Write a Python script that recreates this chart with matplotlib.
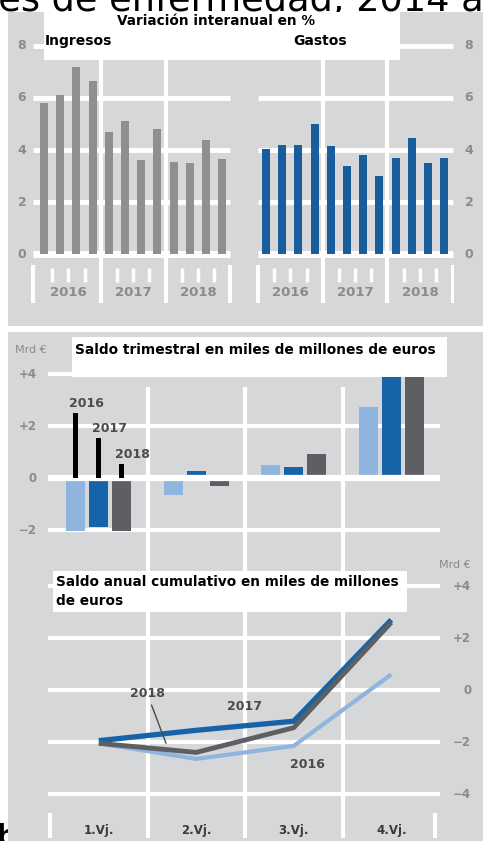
import matplotlib.pyplot as plt
from matplotlib.patches import Rectangle

# Variación interanual en % (one value per quarter, 2016-2018)
years = ['2016', '2017', '2018']
ingresos = [5.8, 6.1, 7.2, 6.65, 4.7, 5.1, 3.6, 4.8, 3.55, 3.5, 4.4, 3.65]
gastos = [4.05, 4.2, 4.2, 5.0, 4.15, 3.4, 3.8, 3.0, 3.7, 4.45, 3.5, 3.7]
top_ticks = [0, 2, 4, 6, 8]

# Saldo trimestral (Mrd €)
quarter_labels = ['1.Vj.', '2.Vj.', '3.Vj.', '4.Vj.']
saldo_2016 = [-2.05, -0.65, 0.5, 2.75]
saldo_2017 = [-1.9, 0.27, 0.42, 4.0]
saldo_2018 = [-2.05, -0.3, 0.92, 4.05]
legend_heights = [2.5, 1.55, 0.55]
mid_ticks = [-2, 0, 2, 4]
mid_tick_labels = ['\u22122', '0', '+2', '+4']

# Saldo anual cumulativo (Mrd €)
acum_2016 = [-2.05, -2.65, -2.15, 0.6]
acum_2017 = [-1.95, -1.55, -1.2, 2.7]
acum_2018 = [-2.05, -2.4, -1.45, 2.6]
low_ticks = [-4, -2, 0, 2, 4]
low_tick_labels = ['\u22124', '\u22122', '0', '+2', '+4']

# Colours
BG = '#d6d7d9'
LABEL = '#8a8b8d'
C_ING = '#8e8f91'
C_GAS = '#1a5d9c'
C_16 = '#8fb4dd'
C_17 = '#1763a8'
C_18 = '#5d5f63'

W, H = 483, 841
fig = plt.figure(figsize=(W / 100, H / 100), dpi=100)
fig.patch.set_facecolor('white')


def px_axes(x0, y0, x1, y1):
    # axes placed in pixel coordinates (origin top-left)
    ax = fig.add_axes([x0 / W, 1 - y1 / H, (x1 - x0) / W, (y1 - y0) / H])
    ax.set_facecolor('none')
    for s in ax.spines.values():
        s.set_visible(False)
    ax.set_xticks([])
    ax.set_yticks([])
    return ax


def px_rect(x0, y0, x1, y1, color, z):
    fig.add_artist(Rectangle((x0 / W, 1 - y1 / H), (x1 - x0) / W, (y1 - y0) / H,
                             transform=fig.transFigure, facecolor=color,
                             edgecolor='none', zorder=z))


def px_text(x, y, s, **kw):
    fig.text(x / W, 1 - y / H, s, **kw)


# Cut-off heading text behind the panels
px_text(-12, 11, 'les de enfermedad, 2014 a', fontsize=26.5, color='black',
        va='baseline', zorder=-20)
px_text(-5, 846, 'b', fontsize=22, color='black', fontweight='bold',
        va='baseline', zorder=-20)

# Gray panels
px_rect(8, 12, W, 326, BG, -10)
px_rect(8, 332, W, H, BG, -10)

# ---------------- top: bar panels ----------------
step = 16.2
ymax_top = 8.6


def bar_panel(x_first, values, color, grid_lo, grid_hi):
    ax = px_axes(x_first - 0.8 * step, 254 - ymax_top * 26,
                 x_first + 11.6 * step, 306)
    ax.set_xlim(-0.8, 11.6)
    ax.set_ylim(-2, ymax_top)
    for v in top_ticks[1:]:
        ax.hlines(v, grid_lo, grid_hi, color='white', lw=3.5, zorder=1)
    ax.hlines(0, grid_lo, grid_hi, color='white', lw=5, zorder=1)
    # year separators and ticks
    ax.vlines([3.5, 7.5], -1.88, ymax_top, color='white', lw=3, zorder=1)
    ax.vlines([grid_lo, grid_hi], -0.42, -1.88, color='white', lw=3, zorder=1)
    short = [q + 0.5 for q in range(11) if q % 4 != 3]
    ax.vlines(short, -0.54, -1.08, color='white', lw=2.5, zorder=1)
    ax.bar(range(len(values)), values, width=0.5, color=color, zorder=2)
    for i, y in enumerate(years):
        ax.text(4 * i + 1.5, -1.5, y, ha='center', va='center', fontsize=9.5,
                color=LABEL, fontweight='bold')
    return ax


ax_ing = bar_panel(44, ingresos, C_ING, -0.65, 11.48)
ax_gas = bar_panel(266, gastos, C_GAS, -0.5, 11.54)

for v in top_ticks:
    ax_ing.text(-0.045, v, str(v), transform=ax_ing.get_yaxis_transform(),
                ha='center', va='center', fontsize=9, color=LABEL, fontweight='bold')
    ax_gas.text(1.075, v, str(v), transform=ax_gas.get_yaxis_transform(),
                ha='center', va='center', fontsize=9, color=LABEL, fontweight='bold')

# title box of the top panel
px_rect(44, 12, 400, 60, 'white', 5)
px_text(216, 21, 'Variación interanual en %', ha='center', va='center',
        fontsize=9.8, fontweight='bold', zorder=6)
px_text(45, 41, 'Ingresos', ha='left', va='center', fontsize=10,
        fontweight='bold', zorder=6)
px_text(293, 41, 'Gastos', ha='left', va='center', fontsize=10,
        fontweight='bold', zorder=6)

# ---------------- middle: quarterly balance ----------------
qstep = 97.5
xlo, xhi = -0.5 - 2 / qstep, 3.5 + 2 / qstep
ax_q = px_axes(48, 333, 442, 560)
ax_q.set_xlim(xlo, xhi)
ax_q.set_ylim((478 - 560) / 26, (478 - 333) / 26)
for v in [4, 2, -2]:
    ax_q.hlines(v, xlo, 3.5, color='white', lw=3, zorder=1)
ax_q.hlines(0, xlo, 3.5, color='white', lw=4.5, zorder=3)
ax_q.vlines([0.5, 1.5, 2.5], -4, 3.5, color='white', lw=3, zorder=1)

x = range(4)
off = 0.236
bw = 0.195
ax_q.bar([i - off for i in x], saldo_2016, width=bw, color=C_16, zorder=2)
ax_q.bar([i for i in x], saldo_2017, width=bw, color=C_17, zorder=2)
ax_q.bar([i + off for i in x], saldo_2018, width=bw, color=C_18, zorder=2)

# legend markers in the first quarter
for k, (yr, h) in enumerate(zip(years, legend_heights)):
    xk = (k - 1) * off
    ax_q.bar(xk, h, width=0.05, color='black', zorder=4)
    ax_q.annotate(yr, (xk, h), xytext=(-7, 3), textcoords='offset pixels',
                  ha='left', va='bottom', fontsize=9, fontweight='bold',
                  color='#4a4b4d', zorder=4)

for v, lab in zip(mid_ticks, mid_tick_labels):
    ax_q.text(-0.028, v, lab, transform=ax_q.get_yaxis_transform(), ha='right',
              va='center', fontsize=8.5, color=LABEL, fontweight='bold')
px_text(15, 350, 'Mrd €', ha='left', va='center', fontsize=8, color=LABEL)

px_rect(72, 337, 447, 377, 'white', 5)
px_text(75, 350, 'Saldo trimestral en miles de millones de euros', ha='left',
        va='center', fontsize=9.9, fontweight='bold', zorder=6)

# ---------------- bottom: cumulative balance ----------------
ax_c = px_axes(48, 560, 442, H)
ax_c.set_xlim(xlo, xhi)
ax_c.set_ylim((690 - H) / 26, (690 - 560) / 26)
for v in low_ticks:
    ax_c.hlines(v, xlo, 3.5, color='white', lw=3, zorder=1)
ax_c.vlines([0.5, 1.5, 2.5], -5.69, 6, color='white', lw=3, zorder=1)
ax_c.vlines([-0.5, 3.45], -4.73, -5.69, color='white', lw=3, zorder=1)

ax_c.plot(x, acum_2016, color=C_16, lw=3, solid_capstyle='butt', zorder=3)
ax_c.plot(x, acum_2017, color=C_17, lw=3.8, solid_capstyle='butt', zorder=3)
ax_c.plot(x, acum_2018, color=C_18, lw=3.5, solid_capstyle='butt', zorder=3)

ax_c.annotate('2018', xy=(0.7, -2.15), xytext=(0.495, -0.12), ha='center',
              va='center', fontsize=9, fontweight='bold', color='#4a4b4d',
              arrowprops=dict(arrowstyle='-', color='#4a4b4d', lw=1))
ax_c.text(1.49, -0.65, '2017', ha='center', va='center', fontsize=9,
          fontweight='bold', color='#4a4b4d')
ax_c.text(2.136, -2.88, '2016', ha='center', va='center', fontsize=9,
          fontweight='bold', color='#4a4b4d')

for i, lab in enumerate(quarter_labels):
    ax_c.text(i, -5.42, lab, ha='center', va='center', fontsize=8.5,
              fontweight='bold', color='#3a3a3a')

for v, lab in zip(low_ticks, low_tick_labels):
    ax_c.text(1.074, v, lab, transform=ax_c.get_yaxis_transform(), ha='right',
              va='center', fontsize=8.5, color=LABEL, fontweight='bold')
px_text(471, 565, 'Mrd €', ha='right', va='center', fontsize=8, color=LABEL)

px_rect(53, 571, 407, 612, 'white', 5)
px_text(56, 582, 'Saldo anual cumulativo en miles de millones', ha='left',
        va='center', fontsize=9.8, fontweight='bold', zorder=6)
px_text(56, 601, 'de euros', ha='left', va='center', fontsize=9.8,
        fontweight='bold', zorder=6)

fig.savefig('out.png', dpi=100)
